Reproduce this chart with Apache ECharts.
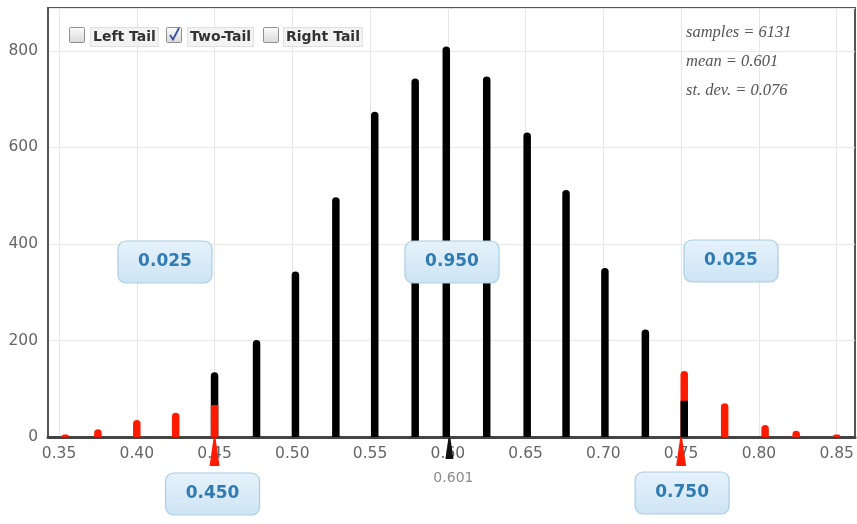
<!DOCTYPE html>
<html>
<head>
<meta charset="utf-8">
<script src="https://cdn.jsdelivr.net/npm/echarts@6/dist/echarts.min.js"></script>
<style>
html,body{margin:0;padding:0;background:#fff;}
#chart{width:857px;height:524px;}
</style>
</head>
<body>
<div id="chart"></div>
<script>
// ---- data ----
const binX = [0.354, 0.375, 0.400, 0.425, 0.450, 0.477, 0.502, 0.528, 0.553, 0.579, 0.599,
              0.625, 0.651, 0.676, 0.701, 0.727, 0.752, 0.778, 0.804, 0.824, 0.850];
const binCount = [5, 16, 35, 50, 134, 201, 343, 497, 674, 743, 809,
                  747, 631, 512, 350, 223, 137, 70, 25, 13, 5];
const tailCount = [5, 16, 35, 50, 66, 0, 0, 0, 0, 0, 0,
                   0, 0, 0, 0, 0, 62, 70, 25, 13, 5];
const xTicks = [0.35, 0.40, 0.45, 0.50, 0.55, 0.60, 0.65, 0.70, 0.75, 0.80, 0.85];
const yTicks = [0, 200, 400, 600, 800];
const mean = 0.601;
const lowerCut = 0.450;
const upperCut = 0.750;
const tailProbLeft = '0.025';
const centerProb = '0.950';
const tailProbRight = '0.025';
const statLines = ['samples = 6131', 'mean = 0.601', 'st. dev. = 0.076'];
const options = [
  {label: 'Left Tail', checked: false},
  {label: 'Two-Tail', checked: true},
  {label: 'Right Tail', checked: false}
];

const RED = '#ff1a00', BLACK = '#000000';

// back series: full height, coloured as the top segment; front: bottom segment
const backData = [], frontData = [];
binX.forEach((x, i) => {
  const total = binCount[i], tail = tailCount[i], mid = total - tail;
  const leftSide = x < mean;
  const topColor = leftSide ? (mid > 0 ? BLACK : RED) : (tail > 0 ? RED : BLACK);
  backData.push({value: [x, total], itemStyle: {color: topColor}});
  if (tail > 0 && mid > 0) {
    if (leftSide) frontData.push({value: [x, tail], itemStyle: {color: RED}});
    else frontData.push({value: [x, mid], itemStyle: {color: BLACK}});
  }
});

const chart = echarts.init(document.getElementById('chart'), null, {renderer: 'canvas'});
const FONT = 'DejaVu Sans';

chart.setOption({
  animation: false,
  backgroundColor: '#ffffff',
  grid: {left: 48, right: 2, top: 8, bottom: 87, show: true, borderColor: '#555', borderWidth: 2,
         containLabel: false, outerBoundsMode: 'none'},
  xAxis: {
    type: 'value', min: 0.3429, max: 0.8618,
    axisLine: {show: true, onZero: false, lineStyle: {color: '#444', width: 3}},
    axisTick: {show: false, customValues: xTicks},
    axisLabel: {customValues: xTicks, formatter: v => v.toFixed(2), color: '#666',
                fontFamily: FONT, fontSize: 15.5, margin: 9},
    splitLine: {show: true, lineStyle: {color: '#e6e6e6', width: 1}}
  },
  yAxis: {
    type: 'value', min: 0, max: 889, interval: 200,
    axisLine: {show: true, lineStyle: {color: '#555', width: 2}},
    axisTick: {show: false},
    axisLabel: {color: '#666', fontFamily: FONT, fontSize: 15.5, margin: 10, showMaxLabel: false,
                formatter: v => (yTicks.indexOf(v) >= 0 ? String(v) : '')},
    splitLine: {show: true, lineStyle: {color: '#e8e8e8', width: 1}}
  },
  series: [
    {type: 'bar', data: backData, barWidth: 7.5, barGap: '-100%',
     itemStyle: {borderRadius: [4, 4, 0, 0]}, z: 2},
    {type: 'bar', data: frontData, barWidth: 7.5, barGap: '-100%', z: 3}
  ]
});

const TOPZ = 100;

function probBox(cx, cy, text) {
  return {
    type: 'group', x: cx - 47, y: cy - 21, z: TOPZ,
    children: [
      {type: 'rect', z: TOPZ, shape: {x: 0, y: 0, width: 94, height: 42, r: 8},
       style: {fill: new echarts.graphic.LinearGradient(0, 0, 0, 1,
               [{offset: 0, color: '#e6f2fb'}, {offset: 1, color: '#cde4f4'}]),
               stroke: '#a8cde6', lineWidth: 1.2}},
      {type: 'text', z: TOPZ + 1, x: 47, y: 21,
       style: {text: text, fill: '#2f7bb2', font: 'bold 17px "DejaVu Sans"',
               align: 'center', verticalAlign: 'middle'}}
    ]
  };
}

function spike(x, color) {
  return {type: 'polygon', z: TOPZ,
          shape: {points: [[x - 1, 438], [x + 1, 438], [x + 5, 466], [x - 5, 466]]},
          style: {fill: color}};
}

const axisY = chart.convertToPixel({gridIndex: 0}, [0.6, 0])[1];
const pxLow = chart.convertToPixel({gridIndex: 0}, [lowerCut, 0])[0];
const pxUp = chart.convertToPixel({gridIndex: 0}, [upperCut, 0])[0];
const pxMean = chart.convertToPixel({gridIndex: 0}, [mean, 0])[0];

const graphics = [];
graphics.push(spike(pxLow, RED));
graphics.push(spike(pxUp, RED));
graphics.push({type: 'polygon', z: TOPZ,
  shape: {points: [[pxMean - 1, axisY + 1], [pxMean + 1, axisY + 1], [pxMean + 4, axisY + 22], [pxMean - 4, axisY + 22]]},
  style: {fill: '#111'}});
graphics.push({type: 'text', x: pxMean + 4, y: axisY + 41, z: TOPZ,
  style: {text: String(mean.toFixed(3)), fill: '#8a8a8a', font: '14px "DejaVu Sans"',
          align: 'center', verticalAlign: 'middle'}});

graphics.push(probBox(165, 262, tailProbLeft));
graphics.push(probBox(452, 262, centerProb));
graphics.push(probBox(731, 261, tailProbRight));
graphics.push(probBox(pxLow - 2, 494, lowerCut.toFixed(3)));
graphics.push(probBox(pxUp + 1, 493, upperCut.toFixed(3)));

// stats
statLines.forEach((s, i) => {
  graphics.push({type: 'text', x: 686, y: 33 + i * 29, z: TOPZ,
    style: {text: s, fill: '#555', font: 'italic 16.5px "Liberation Serif"',
            align: 'left', verticalAlign: 'middle'}});
});

// checkboxes
const boxXs = [69, 166, 263];
const labelXs = [91, 188, 284];
options.forEach((o, i) => {
  graphics.push({type: 'rect', z: TOPZ, shape: {x: boxXs[i] + 0.5, y: 27.5, width: 15, height: 15, r: 1},
    style: {fill: new echarts.graphic.LinearGradient(0, 0, 0, 1,
            [{offset: 0, color: '#fdfdfd'}, {offset: 1, color: '#d8d8d8'}]), stroke: '#8f8f8f', lineWidth: 1}});
  if (o.checked) {
    graphics.push({type: 'polyline', z: TOPZ + 1,
      shape: {points: [[boxXs[i] + 4, 35], [boxXs[i] + 7, 39.5], [boxXs[i] + 13, 28]]},
      style: {stroke: '#3550a0', lineWidth: 1.8, fill: null}});
  }
  graphics.push({type: 'text', x: labelXs[i], y: 37, z: TOPZ,
    style: {text: o.label, fill: '#333', font: 'bold 14px "DejaVu Sans"',
            align: 'left', verticalAlign: 'middle',
            backgroundColor: '#f3f3f3', borderColor: '#e0e0e0', borderWidth: 1, padding: [2, 2]}});
});

chart.setOption({graphic: graphics});
</script>
</body>
</html>
